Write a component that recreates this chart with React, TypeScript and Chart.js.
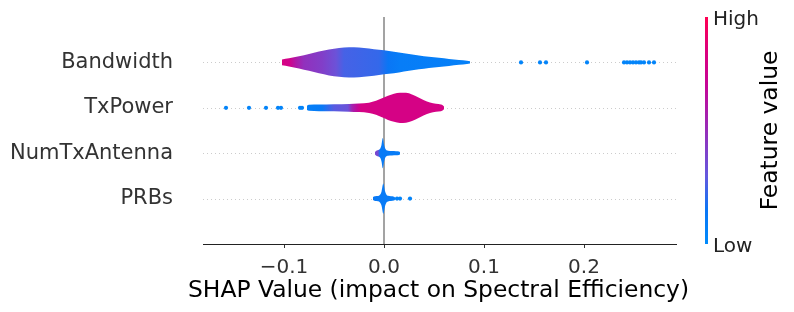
import React, { useEffect, useRef } from "react";
import { Chart, registerables } from "chart.js";

Chart.register(...registerables);

// ---------- data ----------
// rows bottom -> top
const features = ["PRBs", "NumTxAntenna", "TxPower", "Bandwidth"];
const xTicks = [-0.1, 0.0, 0.1, 0.2];
const xMin = -0.181;
const xMax = 0.292;
const xTitle = "SHAP Value (impact on Spectral Efficiency)";
const colorbarTitle = "Feature value";
const colorbarHigh = "High";
const colorbarLow = "Low";

// Bandwidth (row 3)
const bandwidthX = [-0.102, -0.095, -0.085, -0.075, -0.065, -0.055, -0.045, -0.035, -0.025, -0.015, -0.005, 0.005, 0.015, 0.025, 0.035, 0.045, 0.055, 0.065, 0.075, 0.083, 0.086];
const bandwidthDensity = [0.19, 0.27, 0.4, 0.56, 0.72, 0.86, 0.955, 1.0, 0.98, 0.92, 0.83, 0.75, 0.66, 0.56, 0.46, 0.37, 0.3, 0.23, 0.16, 0.11, 0.08];
const bandwidthColorX = [-0.102, -0.094, -0.088, -0.08, -0.062, -0.048, -0.04, -0.005, 0.004, 0.016, 0.086];
const bandwidthFeatureValue = [0.82, 0.76, 0.6, 0.48, 0.42, 0.33, 0.25, 0.22, 0.15, 0.1, 0.08];
const bandwidthOutliers = [0.137, 0.156, 0.162, 0.203, 0.24, 0.243, 0.246, 0.249, 0.252, 0.255, 0.257, 0.26, 0.265, 0.27];

// TxPower (row 2)
const txPowerX = [-0.077, -0.075, -0.065, -0.05, -0.035, -0.025, -0.015, -0.008, -0.002, 0.004, 0.01, 0.016, 0.022, 0.028, 0.034, 0.04, 0.046, 0.052, 0.057, 0.059, 0.06];
const txPowerDensity = [0.14, 0.2, 0.22, 0.235, 0.255, 0.28, 0.34, 0.46, 0.63, 0.8, 0.93, 1.0, 0.99, 0.88, 0.69, 0.5, 0.35, 0.26, 0.22, 0.16, 0.08];
const txPowerColorX = [-0.077, -0.062, -0.05, -0.036, -0.032, -0.027, -0.023, 0.06];
const txPowerFeatureValue = [0.08, 0.12, 0.28, 0.33, 0.55, 0.68, 0.8, 0.8];
const txPowerOutliers = [-0.158, -0.135, -0.118, -0.106, -0.103, -0.084, -0.082];

// NumTxAntenna (row 1)
const numTxX = [-0.009, -0.008, -0.0065, -0.005, -0.0035, -0.0025, -0.0012, 0.0, 0.001, 0.002, 0.004, 0.008, 0.012, 0.015, 0.016];
const numTxDensity = [0.08, 0.15, 0.2, 0.23, 0.34, 0.55, 1.0, 0.58, 0.34, 0.22, 0.165, 0.15, 0.135, 0.12, 0.07];
const numTxColorX = [-0.009, -0.006, -0.004, 0.016];
const numTxFeatureValue = [0.4, 0.35, 0.12, 0.1];
const numTxOutliers: number[] = [];

// PRBs (row 0)
const prbsX = [-0.011, -0.009, -0.006, -0.004, -0.0025, -0.0007, 0.001, 0.0025, 0.004, 0.007, 0.01, 0.011];
const prbsDensity = [0.1, 0.16, 0.17, 0.26, 0.46, 1.0, 0.5, 0.26, 0.19, 0.16, 0.13, 0.08];
const prbsColorX = [-0.011, 0.011];
const prbsFeatureValue = [0.13, 0.1];
const prbsOutliers = [0.013, 0.016, 0.026];

// ---------- styling ----------
const FONT = "'DejaVu Sans', sans-serif";
const CMAP: [number, number[]][] = [
  [0.0, [0, 139, 251]],
  [0.15, [10, 118, 245]],
  [0.3, [100, 88, 222]],
  [0.5, [150, 45, 185]],
  [0.7, [198, 5, 150]],
  [0.85, [220, 0, 125]],
  [1.0, [255, 0, 82]],
];

function cmap(t: number): string {
  const v = Math.max(0, Math.min(1, t));
  for (let i = 1; i < CMAP.length; i++) {
    const [t1, c1] = CMAP[i];
    if (v <= t1) {
      const [t0, c0] = CMAP[i - 1];
      const f = (v - t0) / (t1 - t0);
      const c = c0.map((a, k) => Math.round(a + (c1[k] - a) * f));
      return `rgb(${c[0]},${c[1]},${c[2]})`;
    }
  }
  const c = CMAP[CMAP.length - 1][1];
  return `rgb(${c[0]},${c[1]},${c[2]})`;
}

function violinGradient(chart: any, xs: number[], ts: number[]) {
  const sx = chart.scales?.x;
  if (!chart.chartArea || !sx) return cmap(ts[0]);
  const p0 = sx.getPixelForValue(xs[0]);
  const p1 = sx.getPixelForValue(xs[xs.length - 1]);
  const g = chart.ctx.createLinearGradient(p0, 0, p1, 0);
  xs.forEach((x: number, i: number) => {
    const off = (sx.getPixelForValue(x) - p0) / (p1 - p0 || 1);
    g.addColorStop(Math.max(0, Math.min(1, off)), cmap(ts[i]));
  });
  return g;
}

const HALF = 1 / 3;

function violin(row: number, xs: number[], dens: number[], cx: number[], ct: number[]) {
  const bg = (ctx: any) => violinGradient(ctx.chart, cx, ct);
  const common = {
    type: "line" as const,
    pointRadius: 0,
    pointHoverRadius: 0,
    borderWidth: 0,
    borderColor: "rgba(0,0,0,0)",
    backgroundColor: bg,
    cubicInterpolationMode: "monotone" as const,
    order: 2,
  };
  return [
    { ...common, data: xs.map((x, i) => ({ x, y: row + dens[i] * HALF })), fill: "+1" },
    { ...common, data: xs.map((x, i) => ({ x, y: row - dens[i] * HALF })), fill: false },
  ];
}

function dots(row: number, xs: number[]) {
  return {
    type: "scatter" as const,
    data: xs.map((x) => ({ x, y: row })),
    pointRadius: 2.1,
    pointHoverRadius: 2.1,
    borderWidth: 0,
    backgroundColor: cmap(0.05),
    showLine: false,
    order: 0,
  };
}

const backgroundPlugin = {
  id: "shapBackground",
  beforeDatasetsDraw(chart: any) {
    const { ctx, chartArea } = chart;
    const sx = chart.scales.x;
    const sy = chart.scales.y;
    ctx.save();
    ctx.strokeStyle = "#cccccc";
    ctx.lineWidth = 1;
    ctx.setLineDash([1, 3]);
    features.forEach((_, r) => {
      const y = Math.round(sy.getPixelForValue(r)) + 0.5;
      ctx.beginPath();
      ctx.moveTo(chartArea.left, y);
      ctx.lineTo(chartArea.right, y);
      ctx.stroke();
    });
    ctx.setLineDash([]);
    const x0 = sx.getPixelForValue(0);
    ctx.strokeStyle = "#999999";
    ctx.lineWidth = 1.8;
    ctx.beginPath();
    ctx.moveTo(x0, chartArea.top);
    ctx.lineTo(x0, chartArea.bottom);
    ctx.stroke();
    ctx.restore();
  },
};

const overlayPlugin = {
  id: "shapOverlay",
  afterDraw(chart: any) {
    const { ctx, chartArea } = chart;
    const { top, bottom, right, left } = chartArea;
    ctx.save();
    // x-axis title (drawn unsqueezed, wider than the axis like the original)
    ctx.fillStyle = "#000";
    ctx.font = `23.4px ${FONT}`;
    ctx.textAlign = "center";
    ctx.textBaseline = "alphabetic";
    ctx.fillText(xTitle, (left + right) / 2 - 1, bottom + 53);
    // colorbar
    const g = ctx.createLinearGradient(0, bottom, 0, top);
    CMAP.forEach(([t, c]) => g.addColorStop(t, `rgb(${c[0]},${c[1]},${c[2]})`));
    ctx.fillStyle = g;
    ctx.fillRect(right + 29, top, 3, bottom - top);
    ctx.fillStyle = "#222";
    ctx.font = `20px ${FONT}`;
    ctx.textAlign = "left";
    ctx.textBaseline = "middle";
    ctx.fillText(colorbarHigh, right + 37, top + 3);
    ctx.fillText(colorbarLow, right + 37, bottom + 2.5);
    ctx.translate(right + 95, (top + bottom) / 2);
    ctx.rotate(-Math.PI / 2);
    ctx.textAlign = "center";
    ctx.font = `23.4px ${FONT}`;
    ctx.fillStyle = "#000";
    ctx.fillText(colorbarTitle, 0, 0);
    ctx.restore();
  },
};

function zeroPaddings(axis: any) {
  axis.paddingTop = 0;
  axis.paddingBottom = 0;
  axis.paddingLeft = 0;
  axis.paddingRight = 0;
}

export default function App() {
  const ref = useRef<HTMLCanvasElement | null>(null);

  useEffect(() => {
    document.body.style.margin = "0";
    if (!ref.current) return;
    const datasets: any[] = [
      ...violin(3, bandwidthX, bandwidthDensity, bandwidthColorX, bandwidthFeatureValue),
      ...violin(2, txPowerX, txPowerDensity, txPowerColorX, txPowerFeatureValue),
      ...violin(1, numTxX, numTxDensity, numTxColorX, numTxFeatureValue),
      ...violin(0, prbsX, prbsDensity, prbsColorX, prbsFeatureValue),
      dots(3, bandwidthOutliers),
      dots(2, txPowerOutliers),
      dots(1, numTxOutliers),
      dots(0, prbsOutliers),
    ];
    const chart = new Chart(ref.current, {
      type: "line",
      data: { datasets },
      plugins: [backgroundPlugin, overlayPlugin],
      options: {
        animation: false,
        responsive: false,
        devicePixelRatio: 1,
        layout: { padding: { top: 17, right: 118, left: 0, bottom: 0 } },
        plugins: { legend: { display: false }, tooltip: { enabled: false } },
        events: [],
        scales: {
          x: {
            type: "linear",
            min: xMin,
            max: xMax,
            afterBuildTicks: (axis: any) => {
              axis.ticks = xTicks.map((v) => ({ value: v }));
            },
            afterFit: (axis: any) => {
              axis.height = 68;
              zeroPaddings(axis);
            },
            grid: { display: true, drawOnChartArea: false, drawTicks: true, tickLength: 4, tickColor: "#333", tickWidth: 1 },
            border: { display: true, color: "#222", width: 1 },
            ticks: {
              autoSkip: false,
              maxRotation: 0,
              padding: 8,
              color: "#333",
              font: { family: FONT, size: 20 },
              callback: (v: any) => {
                const n = Number(v);
                const s = Math.abs(n).toFixed(1);
                return n < -1e-9 ? "\u2212" + s : s;
              },
            },
            title: { display: false },
          },
          y: {
            type: "linear",
            min: -1,
            max: 4,
            afterBuildTicks: (axis: any) => {
              axis.ticks = features.map((_, i) => ({ value: i }));
            },
            afterFit: (axis: any) => {
              axis.width = 203;
              zeroPaddings(axis);
            },
            grid: { display: false, drawTicks: false },
            border: { display: false },
            ticks: {
              autoSkip: false,
              padding: 30,
              color: "#333",
              font: { family: FONT, size: 21 },
              callback: (v: any) => features[Number(v)] ?? "",
            },
          },
        },
      },
    } as any);
    return () => chart.destroy();
  }, []);

  return (
    <div style={{ position: "absolute", left: 0, top: 0, width: 794, height: 312 }}>
      <canvas ref={ref} width={794} height={312} style={{ display: "block" }} />
    </div>
  );
}
